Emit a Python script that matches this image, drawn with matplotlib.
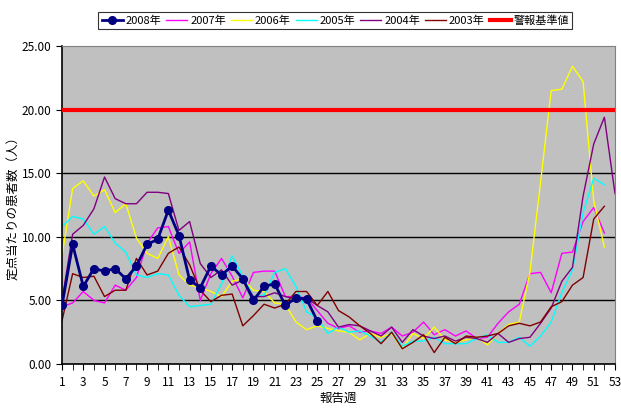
import numpy as np
import matplotlib.pyplot as plt

plt.rcParams['font.family'] = ['Noto Sans CJK JP', 'DejaVu Sans']

weeks = np.arange(1, 54)

y2008 = [4.6, 9.4, 6.1, 7.5, 7.3, 7.5, 6.7, 7.7, 9.4, 9.8, 12.1, 10.1, 6.6, 6.0, 7.7,
         7.0, 7.7, 6.7, 5.0, 6.1, 6.3, 4.6, 5.2, 5.1, 3.4]
y2007 = [4.5, 4.8, 5.7, 5.0, 4.8, 6.2, 5.8, 6.8, 9.5, 10.7, 10.8, 8.7, 9.6, 5.0, 7.1,
         8.3, 6.9, 5.2, 7.2, 7.3, 7.3, 5.3, 5.3, 5.2, 4.2, 3.2, 2.8, 3.0, 2.5, 2.6,
         2.4, 2.9, 2.2, 2.5, 3.3, 2.3, 2.7, 2.2, 2.6, 2.0, 2.1, 3.2, 4.1, 4.7, 7.1,
         7.2, 5.6, 8.7, 8.8, 11.2, 12.3, 10.3]
y2006 = [8.5, 13.8, 14.4, 13.2, 13.7, 11.9, 12.6, 9.9, 8.7, 8.3, 10.0, 7.0, 6.2, 6.0, 5.7,
         5.3, 6.5, 6.7, 5.8, 5.7, 4.8, 4.7, 3.3, 2.7, 3.0, 2.8, 2.6, 2.5, 1.9, 2.4,
         2.1, 2.4, 1.2, 2.4, 2.0, 2.9, 1.9, 1.7, 1.9, 2.1, 1.5, 2.4, 3.1, 3.3, 7.2,
         14.3, 21.5, 21.6, 23.4, 22.2, 12.8, 9.2]
y2005 = [10.8, 11.6, 11.4, 10.2, 10.8, 9.5, 8.8, 7.0, 6.8, 7.1, 7.0, 5.4, 4.5, 4.6, 4.7,
         6.3, 8.5, 6.9, 5.3, 5.4, 7.2, 7.5, 6.1, 4.1, 3.6, 2.4, 2.9, 2.5, 2.6, 2.2,
         1.7, 2.5, 1.4, 1.8, 1.8, 2.1, 1.6, 1.6, 1.6, 2.0, 2.3, 1.7, 1.7, 2.1, 1.4,
         2.2, 3.3, 5.6, 7.4, 11.9, 14.6, 14.1]
y2004 = [5.0, 10.2, 10.9, 12.2, 14.7, 13.0, 12.6, 12.6, 13.5, 13.5, 13.4, 10.5, 11.2, 7.9, 6.8,
         7.4, 6.2, 6.6, 5.3, 5.3, 5.6, 5.3, 5.1, 5.2, 4.6, 4.1, 2.9, 3.1, 3.0, 2.6,
         2.2, 2.9, 1.7, 2.7, 2.2, 2.0, 2.2, 1.8, 2.1, 2.0, 1.7, 2.4, 1.7, 2.0, 2.1,
         3.2, 4.4, 6.5, 7.6, 13.2, 17.3, 19.4, 13.4]
y2003 = [3.4, 7.1, 6.8, 6.9, 5.3, 5.8, 5.8, 8.3, 7.0, 7.3, 8.7, 9.2, 7.8, 5.8, 4.9,
         5.4, 5.5, 3.0, 3.8, 4.7, 4.4, 4.7, 5.7, 5.7, 4.6, 5.7, 4.2, 3.7, 3.0, 2.4,
         1.6, 2.5, 1.2, 1.7, 2.3, 0.9, 2.1, 1.6, 2.2, 2.1, 2.2, 2.4, 3.0, 3.2, 3.0,
         3.3, 4.5, 4.9, 6.2, 6.8, 11.4, 12.4]
alarm = 20.0

series = [('2007年', y2007, '#FF00FF'), ('2006年', y2006, '#FFFF00'),
          ('2005年', y2005, '#00FFFF'), ('2004年', y2004, '#800080'),
          ('2003年', y2003, '#800000')]

fig = plt.figure(figsize=(6.21, 4.12), dpi=100)
ax = fig.add_axes([62/621, 48/412, 553/621, 318/412])
ax.set_facecolor('#C0C0C0')

ax.plot(weeks[:len(y2008)], y2008, color='#000080', lw=2, marker='o', ms=5.5, label='2008年', zorder=5)
for name, vals, col in series:
    ax.plot(weeks[:len(vals)], vals, color=col, lw=1, label=name)
ax.axhline(alarm, color='#FF0000', lw=3, label='警報基準値', zorder=4)

for v in [5, 10, 15]:
    ax.axhline(v, color='black', lw=1, zorder=1)

ax.set_xlim(1, 53)
ax.set_ylim(0, 25)
ax.set_yticks(np.arange(0, 26, 5))
ax.set_yticklabels([f'{v:.2f}' for v in np.arange(0, 26, 5)])
ax.set_xticks(np.arange(1, 54, 2))
ax.set_xticks(weeks, minor=True)
ax.tick_params(axis='both', labelsize=8.5, length=4, direction='out')
ax.tick_params(axis='x', which='minor', length=4)
ax.tick_params(axis='x', pad=5)
for s in ['top', 'right']:
    ax.spines[s].set_color('#808080')
ax.spines['left'].set_linewidth(1.2)
ax.spines['bottom'].set_linewidth(1.2)

ax.set_xlabel('報告週', fontsize=9, labelpad=2)
ax.set_ylabel('定点当たりの患者数（人）', fontsize=9, labelpad=2)

leg = fig.legend(loc='upper center', bbox_to_anchor=(0.54, 0.985), ncol=7, fontsize=8,
                 frameon=True, fancybox=False, edgecolor='black', handlelength=1.9,
                 handletextpad=0.25, columnspacing=0.45, borderpad=0.3)
leg.get_frame().set_linewidth(0.8)

fig.savefig('out.png', dpi=100)
